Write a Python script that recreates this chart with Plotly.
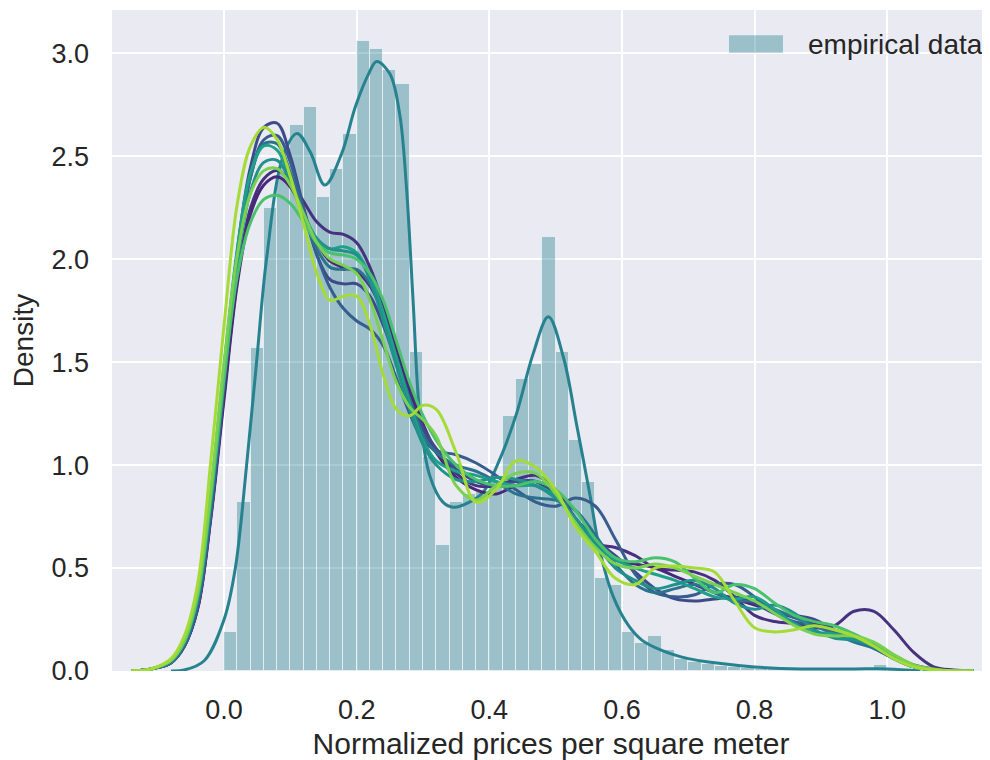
import plotly.graph_objects as go

# ---------------- data ----------------
bin_left = [round(0.02 * k, 2) for k in range(50)]
bin_density = [0.19, 0.82, 1.57, 2.25, 2.45, 2.65, 2.74, 2.30, 2.44, 2.61,
               3.06, 3.02, 2.92, 2.85, 1.55, 1.04, 0.61, 0.82, 0.86, 0.87,
               0.92, 1.24, 1.42, 1.49, 2.11, 1.55, 1.12, 0.92, 0.45, 0.42,
               0.19, 0.135, 0.17, 0.10, 0.06, 0.045, 0.032, 0.025, 0.02, 0.015,
               0.012, 0.01, 0.01, 0.01, 0.01, 0.01, 0.01, 0.01, 0.012, 0.03]

emp_x = [-0.08, -0.06, -0.03, 0.0, 0.017, 0.034, 0.049, 0.064, 0.089, 0.11,
         0.13, 0.152, 0.177, 0.198, 0.218, 0.23, 0.25, 0.265, 0.275, 0.285,
         0.295, 0.31, 0.33, 0.346, 0.37, 0.391, 0.416, 0.441, 0.466, 0.489,
         0.512, 0.532, 0.552, 0.567, 0.587, 0.61, 0.63, 0.66, 0.70, 0.74,
         0.80, 0.87, 0.95, 1.00, 1.05]
emp_kde = [0.0, 0.005, 0.05, 0.25, 0.5, 1.0, 1.5, 2.0, 2.5, 2.61,
           2.52, 2.36, 2.51, 2.74, 2.90, 2.96, 2.90, 2.70, 2.35, 1.80,
           1.25, 0.95, 0.82, 0.795, 0.82, 0.87, 1.03, 1.25, 1.54, 1.72,
           1.52, 1.19, 0.85, 0.58, 0.36, 0.22, 0.15, 0.10, 0.06, 0.04,
           0.02, 0.01, 0.01, 0.01, 0.0]

grid_x = [-0.14, -0.11, -0.08, -0.06, -0.04, -0.02, 0.00, 0.02, 0.04, 0.06,
          0.08, 0.10, 0.12, 0.14, 0.16, 0.18, 0.20, 0.22, 0.24, 0.26,
          0.28, 0.30, 0.32, 0.35, 0.38, 0.41, 0.44, 0.47, 0.50, 0.53,
          0.56, 0.59, 0.62, 0.65, 0.68, 0.71, 0.74, 0.77, 0.80, 0.83,
          0.86, 0.89, 0.92, 0.95, 0.98, 1.01, 1.04, 1.07, 1.10, 1.13]

kde_a = [0.00, 0.01, 0.04, 0.12, 0.30, 0.75, 1.34, 1.90, 2.25, 2.39,
         2.43, 2.38, 2.28, 2.18, 2.13, 2.12, 2.08, 1.96, 1.78, 1.58,
         1.38, 1.20, 1.07, 0.96, 0.90, 0.90, 0.93, 0.95, 0.88, 0.74,
         0.62, 0.60, 0.56, 0.50, 0.49, 0.48, 0.44, 0.36, 0.27, 0.24,
         0.23, 0.21, 0.22, 0.29, 0.29, 0.20, 0.09, 0.02, 0.005, 0.0]
kde_b = [0.00, 0.01, 0.04, 0.12, 0.30, 0.74, 1.32, 1.88, 2.22, 2.36,
         2.40, 2.35, 2.22, 2.08, 1.99, 1.96, 1.94, 1.87, 1.74, 1.56,
         1.36, 1.18, 1.06, 0.94, 0.88, 0.86, 0.90, 0.92, 0.86, 0.74,
         0.62, 0.54, 0.52, 0.50, 0.46, 0.42, 0.38, 0.35, 0.32, 0.29,
         0.26, 0.23, 0.20, 0.17, 0.13, 0.07, 0.03, 0.01, 0.0, 0.0]
kde_c = [0.00, 0.01, 0.04, 0.12, 0.31, 0.77, 1.40, 2.04, 2.45, 2.64,
         2.66, 2.50, 2.25, 2.02, 1.90, 1.88, 1.88, 1.82, 1.68, 1.50,
         1.32, 1.18, 1.08, 0.98, 0.92, 0.90, 0.92, 0.92, 0.85, 0.74,
         0.64, 0.56, 0.48, 0.40, 0.35, 0.34, 0.35, 0.36, 0.33, 0.28,
         0.27, 0.25, 0.20, 0.16, 0.13, 0.07, 0.02, 0.005, 0.0, 0.0]
kde_d = [0.00, 0.01, 0.04, 0.12, 0.31, 0.76, 1.38, 2.00, 2.40, 2.58,
         2.60, 2.47, 2.24, 2.02, 1.86, 1.76, 1.70, 1.66, 1.58, 1.42,
         1.25, 1.12, 1.07, 1.05, 1.01, 0.95, 0.88, 0.82, 0.80, 0.84,
         0.80, 0.64, 0.47, 0.38, 0.36, 0.37, 0.42, 0.42, 0.36, 0.28,
         0.24, 0.22, 0.19, 0.15, 0.11, 0.06, 0.02, 0.005, 0.0, 0.0]
kde_e = [0.00, 0.01, 0.04, 0.13, 0.33, 0.80, 1.42, 2.02, 2.40, 2.56,
         2.56, 2.42, 2.22, 2.05, 1.96, 1.95, 1.95, 1.88, 1.72, 1.52,
         1.32, 1.15, 1.06, 1.00, 0.97, 0.92, 0.86, 0.84, 0.83, 0.78,
         0.66, 0.52, 0.42, 0.38, 0.40, 0.42, 0.38, 0.34, 0.34, 0.30,
         0.26, 0.22, 0.18, 0.14, 0.11, 0.06, 0.02, 0.005, 0.0, 0.0]
kde_f = [0.00, 0.01, 0.05, 0.15, 0.37, 0.86, 1.48, 2.05, 2.42, 2.55,
         2.53, 2.38, 2.20, 2.08, 2.05, 2.06, 2.03, 1.92, 1.74, 1.52,
         1.30, 1.12, 1.02, 0.97, 0.95, 0.92, 0.90, 0.90, 0.85, 0.74,
         0.62, 0.54, 0.50, 0.47, 0.44, 0.40, 0.36, 0.35, 0.36, 0.30,
         0.23, 0.19, 0.18, 0.16, 0.12, 0.06, 0.02, 0.005, 0.0, 0.0]
kde_g = [0.00, 0.01, 0.05, 0.14, 0.35, 0.82, 1.42, 1.98, 2.33, 2.47,
         2.48, 2.38, 2.22, 2.10, 2.05, 2.04, 2.02, 1.90, 1.70, 1.48,
         1.27, 1.10, 1.00, 0.93, 0.92, 0.94, 0.93, 0.90, 0.84, 0.74,
         0.62, 0.50, 0.44, 0.40, 0.42, 0.44, 0.40, 0.33, 0.30, 0.32,
         0.28, 0.20, 0.16, 0.15, 0.12, 0.06, 0.02, 0.005, 0.0, 0.0]
kde_h = [0.00, 0.01, 0.05, 0.14, 0.36, 0.84, 1.42, 1.92, 2.18, 2.29,
         2.31, 2.27, 2.18, 2.08, 2.03, 2.02, 2.00, 1.93, 1.80, 1.60,
         1.40, 1.24, 1.12, 1.00, 0.93, 0.90, 0.90, 0.92, 0.88, 0.78,
         0.64, 0.55, 0.53, 0.55, 0.53, 0.45, 0.38, 0.42, 0.40, 0.33,
         0.27, 0.24, 0.22, 0.18, 0.13, 0.07, 0.02, 0.005, 0.0, 0.0]
kde_i = [0.00, 0.01, 0.05, 0.15, 0.38, 0.88, 1.50, 2.02, 2.32, 2.43,
         2.44, 2.36, 2.22, 2.08, 2.00, 1.97, 1.93, 1.80, 1.60, 1.40,
         1.28, 1.22, 1.14, 0.90, 0.83, 0.90, 0.96, 0.96, 0.86, 0.72,
         0.60, 0.52, 0.50, 0.52, 0.50, 0.46, 0.42, 0.38, 0.34, 0.28,
         0.22, 0.18, 0.17, 0.17, 0.14, 0.08, 0.03, 0.01, 0.0, 0.0]
kde_j = [0.00, 0.01, 0.06, 0.17, 0.42, 1.02, 1.68, 2.27, 2.55, 2.64,
         2.58, 2.40, 2.17, 1.93, 1.80, 1.82, 1.82, 1.68, 1.44, 1.27,
         1.24, 1.29, 1.27, 1.06, 0.82, 0.88, 1.02, 0.99, 0.88, 0.70,
         0.58, 0.45, 0.42, 0.50, 0.51, 0.50, 0.48, 0.34, 0.21, 0.19,
         0.20, 0.22, 0.20, 0.17, 0.12, 0.06, 0.02, 0.005, 0.0, 0.0]

sample_kdes = [kde_a, kde_b, kde_c, kde_d, kde_e, kde_f, kde_g, kde_h, kde_i, kde_j]
sample_colors = ["#46327e", "#482878", "#3e4a89", "#365d8d", "#2c728e",
                 "#1fa088", "#21918c", "#4ac16d", "#7ad151", "#a5db36"]

hist_color = "rgba(38,130,142,0.4)"
emp_color = "#26828e"
legend_label = "empirical data"
x_title = "Normalized prices per square meter"
y_title = "Density"

# ---------------- figure ----------------
fig = go.Figure()

fig.add_trace(go.Bar(
    x=[b + 0.01 for b in bin_left], y=bin_density, width=0.02,
    name=legend_label,
    marker=dict(color=hist_color, line=dict(color="rgba(255,255,255,0.55)", width=1)),
    showlegend=False, hoverinfo="skip"))

fig.add_trace(go.Scatter(
    x=emp_x, y=emp_kde, mode="lines",
    line=dict(color=emp_color, width=3, shape="spline", smoothing=1.0),
    showlegend=False))

for ys, col in zip(sample_kdes, sample_colors):
    fig.add_trace(go.Scatter(
        x=grid_x, y=ys, mode="lines",
        line=dict(color=col, width=3, shape="spline", smoothing=1.0),
        showlegend=False))

# legend (patch + label) for the histogram
fig.add_shape(type="rect", xref="paper", yref="paper",
              x0=0.7027, x1=0.7642, y0=0.9352, y1=0.9617,
              fillcolor=hist_color, line=dict(width=0))
fig.add_annotation(xref="paper", yref="paper", x=0.7904, y=0.9478,
                   xanchor="left", yanchor="middle", showarrow=False,
                   text=legend_label, font=dict(size=28, color="#262626"))

fig.update_layout(
    width=982, height=752,
    margin=dict(l=104, r=0, t=2, b=89),
    paper_bgcolor="white", plot_bgcolor="#eaeaf2",
    font=dict(family="Liberation Sans, Arial, sans-serif", size=27, color="#262626"),
    bargap=0,
    showlegend=False,
    xaxis=dict(range=[-0.169, 1.155], tickvals=[0, 0.2, 0.4, 0.6, 0.8, 1.0],
               ticktext=["0.0", "0.2", "0.4", "0.6", "0.8", "1.0"],
               showgrid=True, gridcolor="white", gridwidth=1.8, zeroline=False,
               showline=False, ticks="", ticklabelstandoff=20,
               title=dict(text=x_title, font=dict(size=30), standoff=14)),
    yaxis=dict(range=[0, 3.21], tickvals=[0, 0.5, 1.0, 1.5, 2.0, 2.5, 3.0],
               ticktext=["0.0", "0.5", "1.0", "1.5", "2.0", "2.5", "3.0"],
               showgrid=True, gridcolor="white", gridwidth=1.8, zeroline=False,
               showline=False, ticks="", ticklabelstandoff=22,
               title=dict(text=y_title, font=dict(size=28), standoff=10)),
)

fig.write_html("out.html")
